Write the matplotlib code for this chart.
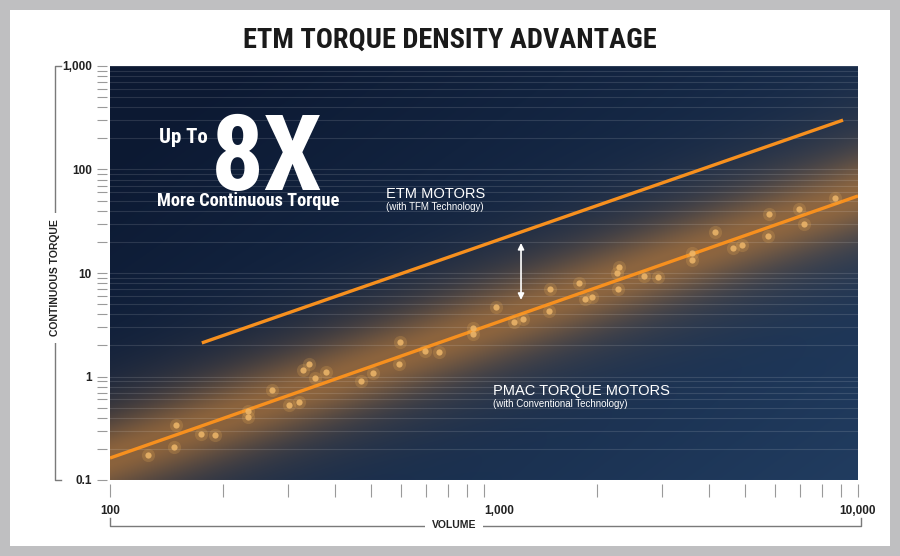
import numpy as np
import matplotlib
matplotlib.use("Agg")
import matplotlib.pyplot as plt
from matplotlib import font_manager
from matplotlib.lines import Line2D
from matplotlib.patches import Rectangle
from matplotlib.transforms import ScaledTranslation
from matplotlib.ticker import FixedLocator, FixedFormatter, NullFormatter

# values (volume vs continuous torque)
volume = [126, 148, 150, 175, 191, 234, 234, 271, 301, 320, 328, 341, 353, 378,
          469, 505, 593, 596, 695, 758, 935, 935, 1077, 1203, 1271, 1492, 1501,
          1795, 1862, 1944, 2270, 2282, 2296, 2679, 2918, 3597, 3597, 4146, 4634,
          4898, 5781, 5745, 6950, 7172, 8690]
torque = [0.174, 0.208, 0.34, 0.278, 0.272, 0.406, 0.464, 0.741, 0.53, 0.567,
          1.16, 1.32, 0.967, 1.105, 0.905, 1.08, 1.32, 2.15, 1.76, 1.72, 2.57,
          2.94, 4.69, 3.36, 3.59, 4.30, 7.0, 8.0, 5.61, 5.86, 10.0, 7.0, 11.4,
          9.36, 9.15, 15.6, 13.4, 24.9, 17.5, 18.7, 37.2, 22.7, 41.5, 29.7, 53.1]

etm_x = [176, 9120]
etm_y = [2.11, 300]
pmac_x = [100, 10000]
pmac_y = [0.163, 55.5]
arrow_x = 1256
arrow_y = [5.5, 19.5]

y_ticks = [0.1, 1, 10, 100, 1000]
y_labels = ["0.1", "1", "10", "100", "1,000"]
x_ticks = [100, 1000, 10000]
x_labels = ["100", "1,000", "10,000"]

W, H = 900, 556
SANS = ["Liberation Sans", "DejaVu Sans"]
ORANGE = "#f7901e"

# pick the narrowest bold face that is installed
installed = {f.name for f in font_manager.fontManager.ttflist}
NARROW = "DejaVu Sans"
for cand in ["Roboto Condensed", "Liberation Sans Narrow", "Open Sans Condensed",
             "DejaVu Sans Condensed", "Roboto", "Liberation Sans"]:
    if cand in installed:
        NARROW = cand
        break


def fpos(px, py):
    # pixel position (top-left origin) -> figure fraction
    return px / W, 1 - py / H


fig = plt.figure(figsize=(9, 5.56), dpi=100, facecolor="#bfbfc1")
fig.add_artist(Rectangle(fpos(10, 546), 880 / W, 536.5 / H, transform=fig.transFigure,
                         facecolor="white", edgecolor="none", zorder=0))

ax = fig.add_axes([110 / W, 76 / H, 748 / W, 414 / H])
ax.set_xscale("log")
ax.set_yscale("log")
ax.set_xlim(100, 10000)
ax.set_ylim(0.1, 1000)
ax.autoscale(False)

# background: navy gradient with orange glow along the PMAC trend
nh, nw = 414, 748
u = (np.arange(nw) + 0.5) / nw
v = 1 - (np.arange(nh) + 0.5) / nh
U, V = np.meshgrid(u, v)
c0 = np.array([12, 25, 50]) / 255
c1 = np.array([34, 62, 98]) / 255
t = np.clip(0.6 * U + 0.45 * (1 - V) - 0.1, 0, 1)
img = c0 + (c1 - c0) * t[..., None]

lx0, lx1 = np.log10(pmac_x)
ly0, ly1 = np.log10(pmac_y)
slope = (ly1 - ly0) / (lx1 - lx0)
line_v = (ly0 + slope * (2 + 2 * U - lx0) + 1) / 4
d = (V - line_v) * nh
glow = 0.42 * np.exp(-(d / 36) ** 2) + 0.32 * np.exp(-(d / 72) ** 2)
glow = np.clip(glow, 0, 0.72)
gcol = np.array([185, 122, 58]) / 255
img = img * (1 - glow[..., None]) + gcol * glow[..., None]
ax.imshow(img, extent=(0, 1, 0, 1), transform=ax.transAxes, aspect="auto",
          origin="upper", zorder=0, interpolation="bilinear")

ax.yaxis.grid(True, which="both", color="white", alpha=0.12, lw=0.8)
ax.xaxis.grid(False, which="both")

ax.plot(pmac_x, pmac_y, color=ORANGE, lw=2.4, solid_capstyle="butt", zorder=3)
ax.plot(etm_x, etm_y, color=ORANGE, lw=2.4, solid_capstyle="butt", zorder=3)

ax.scatter(volume, torque, s=90, color="#f0b45a", alpha=0.2, lw=0, zorder=4)
ax.scatter(volume, torque, s=20, color="#eeb76a", alpha=0.85, lw=0, zorder=5)

ax.annotate("", xy=(arrow_x, arrow_y[1]), xytext=(arrow_x, arrow_y[0]),
            arrowprops=dict(arrowstyle="<|-|>", color="white", lw=1.2,
                            mutation_scale=9, shrinkA=0, shrinkB=0), zorder=6)

for s in ax.spines.values():
    s.set_visible(False)
ax.spines["left"].set_position(("outward", 2))
ax.spines["bottom"].set_position(("outward", 3))

ax.yaxis.set_major_locator(FixedLocator(y_ticks))
ax.yaxis.set_major_formatter(FixedFormatter(y_labels))
ax.yaxis.set_minor_formatter(NullFormatter())
ax.xaxis.set_major_locator(FixedLocator(x_ticks))
ax.xaxis.set_major_formatter(FixedFormatter(x_labels))
ax.xaxis.set_minor_formatter(NullFormatter())
ax.tick_params(axis="y", which="both", direction="out", length=7, width=0.8,
               color="#9a9a9a", pad=4, labelsize=8.5, labelcolor="#222222")
ax.tick_params(axis="x", which="both", direction="out", length=9, width=0.8,
               color="#9a9a9a", pad=6, labelsize=8.5, labelcolor="#222222")
for lab in ax.get_xticklabels() + ax.get_yticklabels():
    lab.set_fontweight("bold")
    lab.set_family(SANS)
# the middle volume label sits a little right of its tick
mid = ax.get_xticklabels()[1]
mid.set_transform(mid.get_transform() + ScaledTranslation(15 / 100, 0, fig.dpi_scale_trans))

# bracket lines for the axis titles
gray = "#7a7a7a"
for pts in ([(61, 66), (55, 66), (55, 480), (61, 480)],
            [(110, 518), (110, 525.5), (861, 525.5), (861, 518)]):
    xs, ys = zip(*[fpos(px, py) for px, py in pts])
    fig.add_artist(Line2D(xs, ys, transform=fig.transFigure, color=gray, lw=1))

box = dict(facecolor="white", edgecolor="none", pad=5)
fig.text(*fpos(55, 278), "CONTINUOUS TORQUE", rotation=90, ha="center", va="center",
         fontsize=7.5, weight="bold", color="#222222", family=SANS, bbox=box)
fig.text(*fpos(454, 525.5), "VOLUME", ha="center", va="center",
         fontsize=7.5, weight="bold", color="#222222", family=SANS, bbox=box)

title = fig.text(*fpos(450, 48), "ETM TORQUE DENSITY ADVANTAGE", ha="center",
                 va="baseline", fontsize=21, weight="bold", color="#1a1a1a",
                 family=NARROW, fontstretch="condensed")
up_to = fig.text(*fpos(159, 143), "Up To", ha="left", va="baseline", fontsize=15,
                 weight="bold", color="white", family=NARROW, fontstretch="condensed")
big = fig.text(*fpos(211, 190), "8X", ha="left", va="baseline", fontsize=78,
               weight="bold", color="white", family=NARROW, fontstretch="condensed")
more = fig.text(*fpos(157, 206), "More Continuous Torque", ha="left", va="baseline",
                fontsize=12.5, weight="bold", color="white", family=NARROW,
                fontstretch="condensed")

# scale the heavy display texts to the widths they take in the chart
renderer = fig.canvas.get_renderer()
for txt, target in ((title, 414), (up_to, 49), (big, 112), (more, 182)):
    w = txt.get_window_extent(renderer).width
    txt.set_fontsize(txt.get_fontsize() * target / w)

fig.text(*fpos(386, 198), "ETM MOTORS", ha="left", va="baseline", fontsize=10.5,
         color="white", family=SANS)
fig.text(*fpos(386, 210), "(with TFM Technology)", ha="left", va="baseline", fontsize=7,
         color="white", family=SANS)
fig.text(*fpos(493, 395), "PMAC TORQUE MOTORS", ha="left", va="baseline", fontsize=10.5,
         color="white", family=SANS)
fig.text(*fpos(493, 407), "(with Conventional Technology)", ha="left", va="baseline",
         fontsize=7, color="white", family=SANS)

fig.savefig("out.png", dpi=100, facecolor=fig.get_facecolor())
